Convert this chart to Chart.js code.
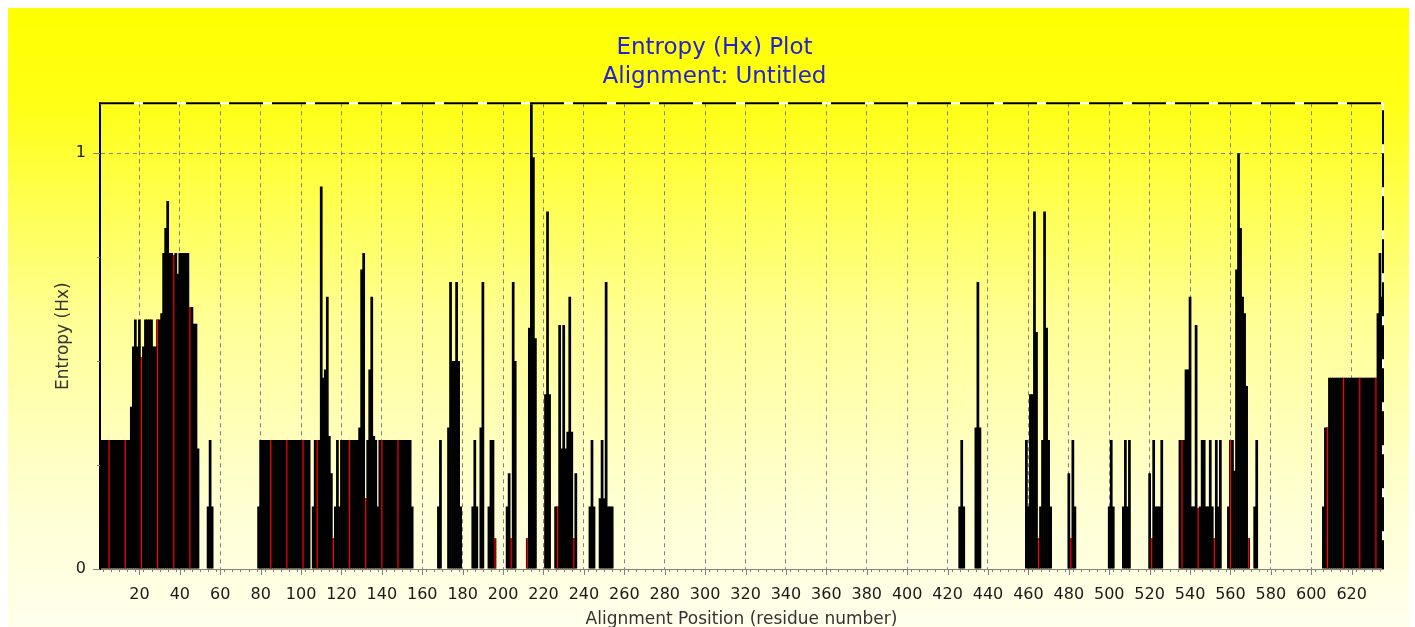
<!DOCTYPE html>
<html>
<head>
<meta charset="utf-8">
<script src="https://cdn.jsdelivr.net/npm/chart.js@4.4.1/dist/chart.umd.min.js"></script>
<style>
  html, body { margin: 0; padding: 0; background: #fff; }
  #wrap { width: 1415px; height: 627px; }
</style>
</head>
<body>
<div id="wrap"><canvas id="entropyChart" width="1415" height="627"></canvas></div>
<script>
// entropy (Hx) per alignment position, residues 1..635
const entropy = [
  0.31,0.31,0.31,0.31,0.31,0.31,0.31,0.31,0.31,0.31,0.31,0.31,0.31,0.31,0.31,0.39,0.535,0.6,0.535,0.6,
  0.51,0.535,0.6,0.6,0.6,0.6,0.535,0.535,0.6,0.6,0.615,0.76,0.82,0.885,0.76,0.76,0.755,0.76,0.71,0.76,
  0.76,0.76,0.76,0.76,0.63,0.63,0.59,0.59,0.29,0,0,0,0,0.15,0.31,0.15,0,0,0,0,
  0,0,0,0,0,0,0,0,0,0,0,0,0,0,0,0,0,0,0.15,0.31,
  0.31,0.31,0.31,0.31,0.31,0.31,0.31,0.31,0.31,0.31,0.31,0.31,0.31,0.31,0.31,0.31,0.31,0.31,0.31,0.31,
  0.31,0.31,0.31,0.31,0,0.15,0.31,0.31,0.31,0.92,0.46,0.48,0.655,0.32,0.23,0.074,0.15,0.31,0.15,0.31,
  0.31,0.31,0.31,0.31,0.31,0.31,0.31,0.31,0.34,0.72,0.76,0.17,0.31,0.48,0.655,0.32,0.31,0.15,0.31,0.31,
  0.31,0.31,0.31,0.31,0.31,0.31,0.31,0.31,0.31,0.31,0.31,0.31,0.31,0.31,0.15,0,0,0,0,0,
  0,0,0,0,0,0,0,0.15,0.31,0,0,0,0.34,0.69,0.5,0.5,0.69,0.5,0.15,0,
  0,0,0,0,0.15,0.31,0.15,0,0.34,0.69,0,0,0.15,0.31,0.31,0.074,0,0,0,0,
  0,0.15,0.23,0.074,0.69,0.5,0,0,0,0,0,0.074,0.58,1.12,0.99,0.555,0,0,0,0,
  0.42,0.86,0.42,0,0,0.15,0.15,0.587,0.29,0.587,0.29,0.33,0.655,0.33,0.074,0.23,0,0,0,0,
  0,0,0.15,0.31,0.15,0,0,0.17,0.31,0.17,0.69,0.15,0.15,0.15,0,0,0,0,0,0,
  0,0,0,0,0,0,0,0,0,0,0,0,0,0,0,0,0,0,0,0,
  0,0,0,0,0,0,0,0,0,0,0,0,0,0,0,0,0,0,0,0,
  0,0,0,0,0,0,0,0,0,0,0,0,0,0,0,0,0,0,0,0,
  0,0,0,0,0,0,0,0,0,0,0,0,0,0,0,0,0,0,0,0,
  0,0,0,0,0,0,0,0,0,0,0,0,0,0,0,0,0,0,0,0,
  0,0,0,0,0,0,0,0,0,0,0,0,0,0,0,0,0,0,0,0,
  0,0,0,0,0,0,0,0,0,0,0,0,0,0,0,0,0,0,0,0,
  0,0,0,0,0,0,0,0,0,0,0,0,0,0,0,0,0,0,0,0,
  0,0,0,0,0,0.15,0.31,0.15,0,0,0,0,0,0.34,0.69,0.34,0,0,0,0,
  0,0,0,0,0,0,0,0,0,0,0,0,0,0,0,0,0,0,0.31,0.15,
  0.42,0.42,0.86,0.57,0.074,0.15,0.31,0.86,0.58,0.31,0.15,0,0,0,0,0,0,0,0,0.23,
  0.074,0.31,0.15,0,0,0,0,0,0,0,0,0,0,0,0,0,0,0,0,0.15,
  0.31,0.15,0,0,0,0,0.15,0.31,0.15,0.31,0,0,0,0,0,0,0,0,0,0.23,
  0.074,0.31,0.15,0.15,0.15,0.31,0,0,0,0,0,0,0,0,0.31,0.31,0.31,0.48,0.48,0.655,
  0.15,0.15,0.587,0.146,0.15,0.31,0.31,0.15,0.15,0.31,0.15,0.074,0.31,0.15,0.31,0,0,0,0.15,0.31,
  0.31,0.236,0.72,1.0,0.82,0.655,0.615,0.44,0.074,0,0,0.15,0.31,0,0,0,0,0,0,0,
  0,0,0,0,0,0,0,0,0,0,0,0,0,0,0,0,0,0,0,0,
  0,0,0,0,0,0.15,0.34,0.34,0.46,0.46,0.46,0.46,0.46,0.46,0.46,0.46,0.46,0.46,0.46,0.46,
  0.46,0.46,0.46,0.46,0.46,0.46,0.46,0.46,0.46,0.46,0.46,0.46,0.615,0.76,0.655
];
const residues = entropy.map((_, i) => i + 1);

// positions where the bar fill shows through red
const redResidues = [5, 13, 21, 29, 37, 45, 85, 93, 101, 108, 116, 124, 132, 140, 148,
  196, 204, 212, 227, 235, 465, 481, 521, 536, 544, 552, 560, 569, 608, 616, 624, 632];

const xTicks = [20, 40, 60, 80, 100, 120, 140, 160, 180, 200, 220, 240, 260, 280, 300,
  320, 340, 360, 380, 400, 420, 440, 460, 480, 500, 520, 540, 560, 580, 600, 620];
const yTicks = [0, 0.25, 0.5, 0.75, 1];
const yTickLabels = { 0: '0', 1: '1' };

const FONT = 'DejaVu Sans';
const redSet = new Set(redResidues);
const redData = residues.map((r, i) => redSet.has(r) ? entropy[i] : null);

const backdrop = {
  id: 'backdrop',
  beforeDraw(chart) {
    const { ctx, width, height } = chart;
    ctx.save();
    ctx.fillStyle = '#ffffff';
    ctx.fillRect(0, 0, width, height);
    const g = ctx.createLinearGradient(0, 8, 0, height);
    g.addColorStop(0, '#ffff00');
    g.addColorStop(0.15, '#ffff14');
    g.addColorStop(0.5, '#ffff94');
    g.addColorStop(0.8, '#ffffd2');
    g.addColorStop(1, '#ffffec');
    ctx.fillStyle = g;
    ctx.fillRect(8, 8, width - 14, height - 8);
    ctx.restore();
  }
};

// dashed top/right frame and the small tick marks
const frame = {
  id: 'frame',
  afterDraw(chart) {
    const { ctx, chartArea: a, scales: { x, y } } = chart;
    ctx.save();
    ctx.lineWidth = 2;
    ctx.strokeStyle = '#ffffff';
    ctx.beginPath();
    ctx.moveTo(a.left, a.top); ctx.lineTo(a.right, a.top); ctx.lineTo(a.right, a.bottom);
    ctx.stroke();
    ctx.setLineDash([34, 9]);
    ctx.strokeStyle = '#000000';
    ctx.beginPath();
    ctx.moveTo(a.left, a.top); ctx.lineTo(a.right, a.top); ctx.lineTo(a.right, a.bottom);
    ctx.stroke();
    ctx.setLineDash([]);

    ctx.lineWidth = 1;
    ctx.strokeStyle = '#808080';
    ctx.beginPath();
    for (let r = 2; r <= residues.length; r += 4) {
      const px = Math.round(x.getPixelForValue(r)) + 0.5;
      ctx.moveTo(px, a.bottom); ctx.lineTo(px, a.bottom + 3);
    }
    xTicks.forEach(v => {
      const px = Math.round(x.getPixelForValue(v)) + 0.5;
      ctx.moveTo(px, a.bottom); ctx.lineTo(px, a.bottom + 6);
    });
    yTicks.forEach(v => {
      const py = Math.round(y.getPixelForValue(v)) + 0.5;
      const len = yTickLabels[v] ? 7 : 3;
      ctx.moveTo(a.left - len, py); ctx.lineTo(a.left, py);
    });
    ctx.stroke();
    ctx.restore();
  }
};

new Chart(document.getElementById('entropyChart'), {
  type: 'bar',
  data: {
    labels: residues,
    datasets: [
      {
        label: 'Entropy (Hx)',
        data: entropy,
        backgroundColor: '#000000',
        borderWidth: 0,
        categoryPercentage: 1,
        barPercentage: 1.35,
        grouped: false,
        order: 1
      },
      {
        label: 'fill',
        data: redData,
        backgroundColor: '#ff0000',
        borderWidth: 0,
        categoryPercentage: 1,
        barPercentage: 0.6,
        grouped: false,
        order: 0
      }
    ]
  },
  options: {
    responsive: false,
    animation: false,
    devicePixelRatio: 1,
    layout: { padding: { left: 46, right: 32, top: 0, bottom: 0 } },
    plugins: {
      legend: { display: false },
      tooltip: { enabled: false },
      title: {
        display: true,
        text: ['Entropy (Hx) Plot', 'Alignment: Untitled'],
        color: '#2323d2',
        font: { family: FONT, size: 23, weight: 'normal', lineHeight: 1.26 },
        padding: { top: 34, bottom: 11.3 }
      }
    },
    scales: {
      x: {
        type: 'linear',
        min: 0.5,
        max: 635.5,
        offset: false,
        afterBuildTicks: s => { s.ticks = xTicks.map(v => ({ value: v })); },
        afterFit: s => { s.height = 58; },
        grid: { color: '#808080', lineWidth: 1, drawTicks: false, offset: false },
        border: { display: true, color: '#808080', width: 1, dash: [4, 4] },
        ticks: {
          autoSkip: false,
          maxRotation: 0,
          padding: 16,
          color: '#1a1a1a',
          font: { family: FONT, size: 16 }
        },
        title: {
          display: true,
          text: 'Alignment Position (residue number)',
          color: '#333333',
          font: { family: FONT, size: 17 },
          padding: { top: 0, bottom: -3 }
        }
      },
      y: {
        min: 0,
        max: 1.12,
        afterBuildTicks: s => { s.ticks = yTicks.map(v => ({ value: v })); },
        afterFit: s => { s.width = 54; },
        grid: {
          drawTicks: false,
          color: c => (c.tick && c.tick.value === 1) ? '#808080' : 'rgba(0,0,0,0)'
        },
        border: { display: true, color: '#000000', width: 2, dash: [4, 4] },
        ticks: {
          padding: 14,
          color: '#1a1a1a',
          font: { family: FONT, size: 16 },
          callback: v => yTickLabels[v] ?? ''
        },
        title: {
          display: true,
          text: 'Entropy (Hx)',
          color: '#333333',
          font: { family: FONT, size: 17 },
          padding: { top: 7, bottom: 0 }
        }
      }
    }
  },
  plugins: [backdrop, frame]
});
</script>
</body>
</html>
